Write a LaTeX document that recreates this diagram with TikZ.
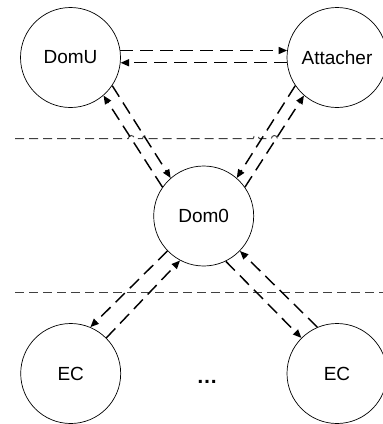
\documentclass[tikz,border=0pt]{standalone}
\usepackage{fontspec}
\setmainfont{Liberation Sans}
\usetikzlibrary{arrows.meta}
\tikzset{
  state/.style={circle, draw, line width=0.7pt, minimum size=100pt, inner sep=0pt,
                font=\fontsize{19}{22}\selectfont},
  conn/.style={draw, line width=1.45pt, dash pattern=on 13pt off 7pt,
               -{Triangle[length=8.5pt,width=7pt]}},
  divider/.style={draw=black!75, line width=1pt, dash pattern=on 9pt off 5pt},
}
\begin{document}
\begin{tikzpicture}[x=1pt,y=-1pt]
  \useasboundingbox (0,0) rectangle (383,424);

  % domains and endpoints
  \node[state] (domu) at (70.5,57.5)  {DomU};
  \node[state] (att)  at (337,57.5)   {Attacher};
  \node[state] (dom0) at (203.7,216)  {Dom0};
  \node[state] (ecl)  at (70.7,373.5) {EC};
  \node[state] (ecr)  at (337,373.5)  {EC};
  \node[font=\fontsize{21}{24}\selectfont\bfseries, anchor=base] (dots) at (207,383) {…};

  % privilege boundaries (the upper one hops over the crossing links)
  \draw[divider] (15,138.5) -- (128.3,138.5)
      arc[start angle=180, end angle=360, radius=3] -- (142.5,138.5)
      arc[start angle=180, end angle=360, radius=3] -- (253.2,138.5)
      arc[start angle=180, end angle=360, radius=3] -- (271.4,138.5)
      arc[start angle=180, end angle=360, radius=3] -- (383,138.5);
  \draw[divider] (15,292) -- (383,292);

  % DomU <-> Attacher
  \draw[conn] (domu.8)   -- (att.172);
  \draw[conn] (att.186)  -- (domu.-6);

  % DomU <-> Dom0
  \draw[conn] (dom0.145) -- (domu.-49);
  \draw[conn] (domu.-34.5) -- (dom0.131);

  % Attacher <-> Dom0
  \draw[conn] (dom0.35)  -- (att.229.5);
  \draw[conn] (att.214.5) -- (dom0.49);

  % Dom0 <-> EC (left)
  \draw[conn] (dom0.224) -- (ecl.67);
  \draw[conn] (ecl.45)   -- (dom0.242);

  % Dom0 <-> EC (right)
  \draw[conn] (dom0.-64) -- (ecr.135);
  \draw[conn] (ecr.113)  -- (dom0.-44);
\end{tikzpicture}
\end{document}
